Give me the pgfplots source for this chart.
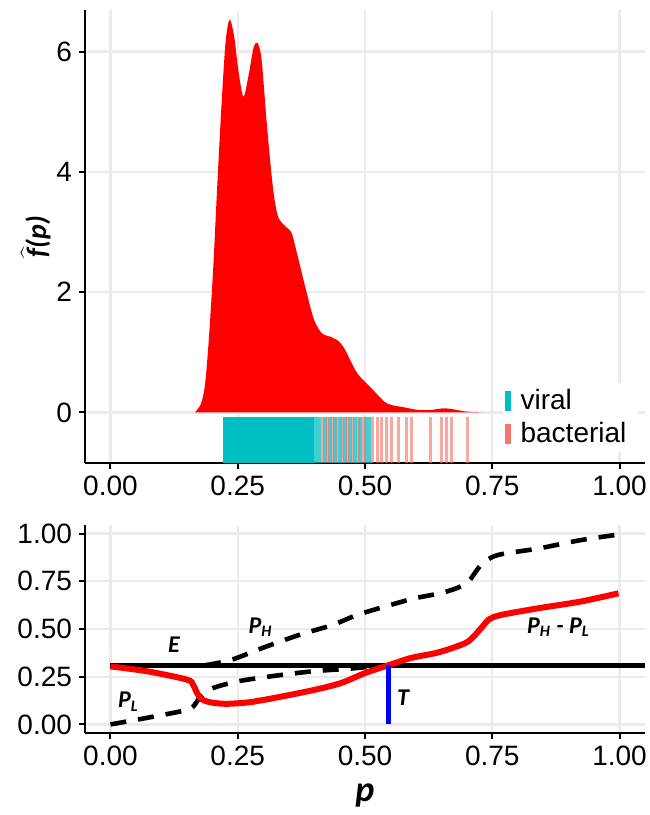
\documentclass[border=0pt]{standalone}
\usepackage{fontspec}
\setmainfont{Liberation Sans}
\newfontfamily\lab{Carlito}
\usepackage{pgfplots}
\pgfplotsset{compat=1.18}
\definecolor{viral}{RGB}{0,191,196}
\definecolor{bact}{RGB}{248,118,109}
\definecolor{gridc}{RGB}{235,235,235}

\pgfplotsset{
  gg/.style={
    scale only axis, width=280pt,
    axis lines*=left,
    axis line style={line width=1.25pt, -},
    tick align=outside,
    major tick length=3pt,
    tick style={line width=1pt, black},
    grid=major,
    major grid style={gridc, line width=1.2pt},
    ticklabel style={font=\fontsize{14}{16}\selectfont, text=black},
    /pgf/number format/assume math mode=true,
    xmin=-0.05, xmax=1.05,
    xtick={0,0.25,0.5,0.75,1},
    xticklabel style={/pgf/number format/.cd, fixed, fixed zerofill, precision=2},
  }
}
\tikzset{lbl/.style={font=\lab\bfseries\itshape\fontsize{12}{14}\selectfont}}

\begin{document}
\begin{tikzpicture}
\path[use as bounding box] (-42.5pt,-176pt) rectangle (282pt,231.5pt);

% density of p with rug
\begin{axis}[gg, at={(0,0)}, anchor=south west, height=226.5pt,
    ymin=-0.84, ymax=6.69, ytick={0,2,4,6},
    ylabel={\lab\bfseries\itshape\fontsize{14}{16}\selectfont $\widehat{\mbox{\lab\bfseries\itshape f}}$(p)},
    ylabel style={yshift=-4pt},
    legend style={at={(0.745,0.177)}, anchor=north west, draw=none, fill=white,
      font=\fontsize{14}{16}\selectfont, row sep=1pt, inner sep=1pt,
      nodes={inner xsep=5pt}},
    legend cell align=left,
    legend image code/.code={\fill (0pt,-5pt) rectangle (3pt,5pt);},
  ]
\addplot[fill=red, draw=none, smooth, forget plot] coordinates {
  (0.166,0) (0.178,0.15) (0.186,0.48) (0.194,1.31) (0.202,2.42) (0.210,3.81)
  (0.218,5.09) (0.226,6.14) (0.234,6.53) (0.243,6.25) (0.251,5.70) (0.261,5.25)
  (0.271,5.59) (0.281,6.06) (0.289,6.14) (0.297,5.86) (0.307,4.81) (0.319,3.75)
  (0.329,3.26) (0.344,3.09) (0.356,2.98) (0.368,2.59) (0.384,2.04) (0.400,1.54)
  (0.416,1.31) (0.432,1.26) (0.449,1.18) (0.461,1.04) (0.485,0.65) (0.513,0.40)
  (0.538,0.18) (0.554,0.12) (0.574,0.09) (0.602,0.045) (0.627,0.04) (0.655,0.07)
  (0.675,0.05) (0.699,0.015) (0.732,0)
} \closedcycle;
% viral rug
\addplot[fill=viral, draw=none, forget plot] coordinates {
  (0.222,-0.84) (0.222,-0.07) (0.40,-0.07) (0.40,-0.84)};
\addplot[viral, opacity=0.75, line width=2pt, unbounded coords=jump, forget plot] coordinates {
  (0.404,-0.07) (0.404,-0.84) (0.404,nan)
  (0.410,-0.07) (0.410,-0.84) (0.410,nan)
  (0.421,-0.07) (0.421,-0.84) (0.421,nan)
  (0.431,-0.07) (0.431,-0.84) (0.431,nan)
  (0.441,-0.07) (0.441,-0.84) (0.441,nan)
  (0.451,-0.07) (0.451,-0.84) (0.451,nan)
  (0.460,-0.07) (0.460,-0.84) (0.460,nan)
  (0.470,-0.07) (0.470,-0.84) (0.470,nan)
  (0.481,-0.07) (0.481,-0.84) (0.481,nan)
  (0.491,-0.07) (0.491,-0.84) (0.491,nan)
  (0.501,-0.07) (0.501,-0.84) (0.501,nan)
  (0.507,-0.07) (0.507,-0.84)
};
% bacterial rug
\addplot[bact, opacity=0.65, line width=1.5pt, unbounded coords=jump, forget plot] coordinates {
  (0.416,-0.07) (0.416,-0.84) (0.416,nan)
  (0.426,-0.07) (0.426,-0.84) (0.426,nan)
  (0.436,-0.07) (0.436,-0.84) (0.436,nan)
  (0.445,-0.07) (0.445,-0.84) (0.445,nan)
  (0.455,-0.07) (0.455,-0.84) (0.455,nan)
  (0.465,-0.07) (0.465,-0.84) (0.465,nan)
  (0.475,-0.07) (0.475,-0.84) (0.475,nan)
  (0.488,-0.07) (0.488,-0.84) (0.488,nan)
  (0.498,-0.07) (0.498,-0.84) (0.498,nan)
  (0.514,-0.07) (0.514,-0.84) (0.514,nan)
  (0.524,-0.07) (0.524,-0.84) (0.524,nan)
  (0.533,-0.07) (0.533,-0.84) (0.533,nan)
  (0.543,-0.07) (0.543,-0.84) (0.543,nan)
  (0.553,-0.07) (0.553,-0.84) (0.553,nan)
  (0.566,-0.07) (0.566,-0.84) (0.566,nan)
  (0.582,-0.07) (0.582,-0.84) (0.582,nan)
  (0.592,-0.07) (0.592,-0.84) (0.592,nan)
  (0.628,-0.07) (0.628,-0.84) (0.628,nan)
  (0.650,-0.07) (0.650,-0.84) (0.650,nan)
  (0.660,-0.07) (0.660,-0.84) (0.660,nan)
  (0.670,-0.07) (0.670,-0.84) (0.670,nan)
  (0.702,-0.07) (0.702,-0.84)
};
\addlegendimage{fill=viral, draw=none}
\addlegendimage{fill=bact, draw=none}
\legend{viral, bacterial}
\end{axis}

% P_H, P_L and their difference
\begin{axis}[gg, at={(0,-135pt)}, anchor=south west, height=104pt,
    ymin=-0.045, ymax=1.045, ytick={0,0.25,0.5,0.75,1},
    yticklabel style={/pgf/number format/.cd, fixed, fixed zerofill, precision=2},
    xlabel={\lab\bfseries\itshape\fontsize{18}{20}\selectfont p},
    xlabel style={yshift=-2pt},
  ]
\addplot[black, line width=2.3pt, dash pattern=on 8pt off 6pt, smooth] coordinates {
  (0.186,0.31) (0.238,0.339) (0.307,0.409) (0.372,0.47) (0.437,0.522) (0.485,0.574)
  (0.55,0.626) (0.598,0.661) (0.647,0.687) (0.679,0.713) (0.703,0.748) (0.728,0.835)
  (0.76,0.887) (0.841,0.922) (0.922,0.965) (0.998,0.995)};
\addplot[black, line width=2.3pt, dash pattern=on 8pt off 6pt, smooth] coordinates {
  (0,0) (0.073,0.035) (0.146,0.073) (0.162,0.092) (0.178,0.148) (0.202,0.191)
  (0.251,0.226) (0.315,0.252) (0.396,0.278) (0.469,0.292) (0.517,0.304) (0.55,0.31)};
\addplot[black, line width=2.4pt] coordinates {(0,0.31) (1.05,0.31)};
\addplot[red, line width=3pt, smooth] coordinates {
  (0,0.304) (0.073,0.278) (0.15,0.235) (0.162,0.209) (0.17,0.165) (0.178,0.134)
  (0.194,0.117) (0.226,0.108) (0.275,0.117) (0.34,0.148) (0.404,0.183) (0.453,0.217)
  (0.501,0.27) (0.546,0.31) (0.59,0.348) (0.639,0.374) (0.671,0.4) (0.703,0.435)
  (0.728,0.504) (0.744,0.551) (0.768,0.574) (0.841,0.609) (0.922,0.643) (0.998,0.687)};
\addplot[blue, line width=2.2pt] coordinates {(0.546,0) (0.546,0.31)};
\node[lbl] at (axis cs:0.125,0.417) {E};
\node[lbl] at (axis cs:0.295,0.51) {P\textsubscript{H}};
\node[lbl] at (axis cs:0.035,0.12) {P\textsubscript{L}};
\node[lbl] at (axis cs:0.575,0.139) {T};
\node[lbl] at (axis cs:0.88,0.51) {P\textsubscript{H} - P\textsubscript{L}};
\end{axis}
\end{tikzpicture}
\end{document}
